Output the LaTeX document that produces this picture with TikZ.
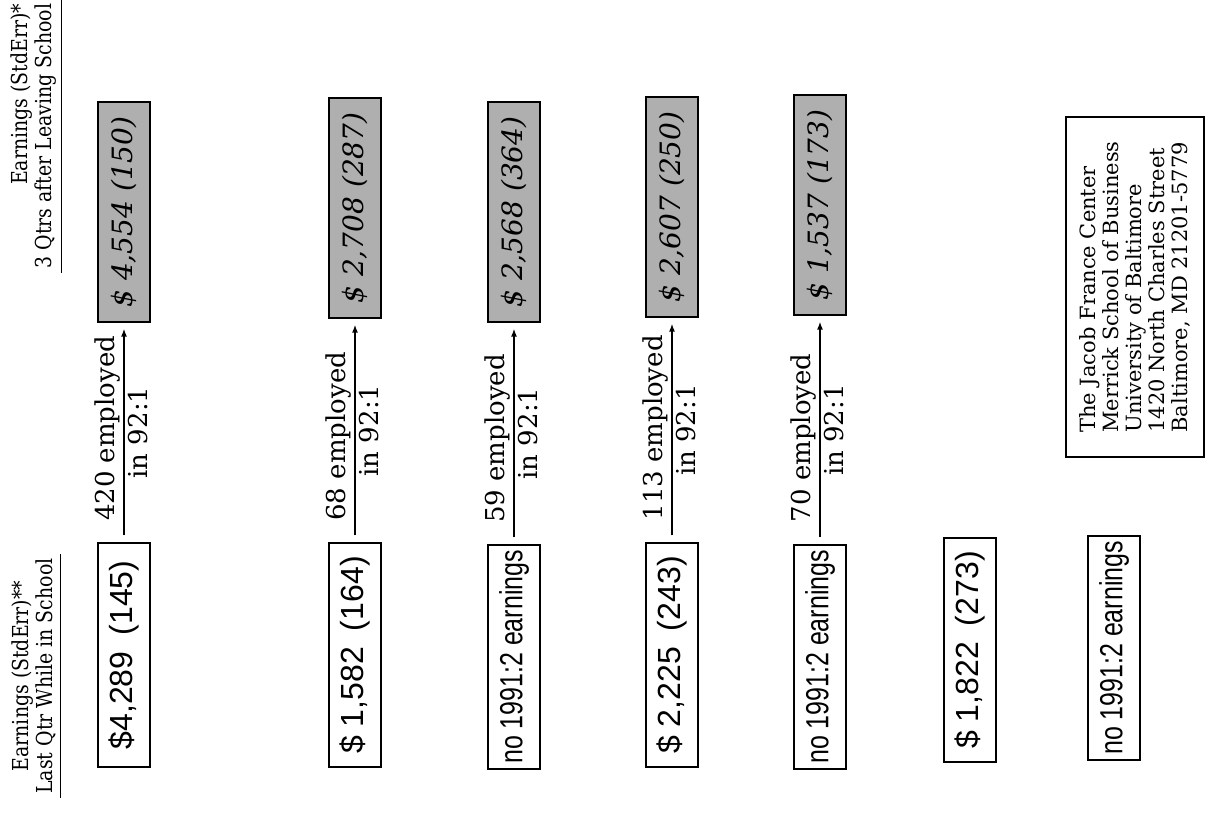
\documentclass[tikz,border=0pt]{standalone}
\usepackage{fontspec}
\setmainfont{DejaVu Serif}
\newfontfamily\valuefont{Liberation Sans}
\newfontfamily\narrowfont[FakeStretch=0.78]{Liberation Sans}
\newfontfamily\headfont[FakeStretch=0.86]{DejaVu Serif}
\usepackage{xcolor}
\usepackage{tikz}
\usetikzlibrary{arrows.meta, positioning}
\definecolor{stipple}{RGB}{175, 175, 175}

\begin{document}
\begin{tikzpicture}[
    x=0.5pt, y=-0.5pt,
    before/.style={rectangle, draw, rotate=90, line width=0.6pt, minimum width=112pt, minimum height=26pt, inner sep=2pt, font=\valuefont\fontsize{16}{18}\selectfont},
    noearn/.style={before, font=\narrowfont\fontsize{16}{18}\selectfont},
    after/.style={rectangle, draw, rotate=90, line width=0.6pt, fill=stipple, minimum width=110pt, minimum height=26pt, inner sep=2pt, font=\itshape\fontsize{14}{16}\selectfont},
    flow/.style={-{Latex[length=4pt, width=3pt]}, line width=0.9pt, shorten <=3.5pt, shorten >=3pt},
    count/.style={font=\fontsize{13}{15}\selectfont, inner sep=1.5pt, sloped},
    heading/.style={rotate=90, font=\headfont\fontsize{11}{12}\selectfont, inner sep=2pt}
]
\useasboundingbox (0,0) rectangle (1209,814);

\node[heading, align=center] (lhead) at (34,676) {Earnings (StdErr)**\\Last Qtr While in School};
\node[heading, align=right] (rhead) at (34,136) {Earnings (StdErr)*\\3 Qtrs after Leaving School};
\draw[line width=0.6pt] (lhead.south west) -- (lhead.south east);
\draw[line width=0.6pt] (rhead.south west) -- (rhead.south east);

\node[before] (lo1) at (124,655) {\$4,289\enspace(145)};
\node[before] (lo2) at (355,655) {\$ 1,582\enspace(164)};
\node[noearn] (lo3) at (514,657) {no 1991:2 earnings};
\node[before] (lo4) at (672,655) {\$ 2,225\enspace(243)};
\node[noearn] (lo5) at (820,657) {no 1991:2 earnings};
\node[before] (lo6) at (970,650) {\$ 1,822\enspace(273)};
\node[noearn] (lo7) at (1114,648) {no 1991:2 earnings};

\node[after] (hi1) at (124,212) {\$ 4,554 (150)};
\node[after] (hi2) at (355,208) {\$ 2,708 (287)};
\node[after] (hi3) at (514,212) {\$ 2,568 (364)};
\node[after] (hi4) at (672,207) {\$ 2,607 (250)};
\node[after] (hi5) at (820,205) {\$ 1,537 (173)};

\draw[flow] (lo1.east) -- node[count, pos=0.08, anchor=south west] {420 employed} node[count, midway, below] {in 92:1} (hi1.west);
\draw[flow] (lo2.east) -- node[count, pos=0.08, anchor=south west] {68 employed} node[count, midway, below] {in 92:1} (hi2.west);
\draw[flow] (lo3.east) -- node[count, pos=0.08, anchor=south west] {59 employed} node[count, midway, below] {in 92:1} (hi3.west);
\draw[flow] (lo4.east) -- node[count, pos=0.08, anchor=south west] {113 employed} node[count, midway, below] {in 92:1} (hi4.west);
\draw[flow] (lo5.east) -- node[count, pos=0.08, anchor=south west] {70 employed} node[count, midway, below] {in 92:1} (hi5.west);

\node[rectangle, draw, rotate=90, line width=0.6pt, minimum width=170pt, minimum height=69pt, align=left, font=\fontsize{10.5}{11.5}\selectfont] (center) at (1135,287)
    {The Jacob France Center\\Merrick School of Business\\University of Baltimore\\1420 North Charles Street\\Baltimore, MD 21201-5779};
\end{tikzpicture}
\end{document}
